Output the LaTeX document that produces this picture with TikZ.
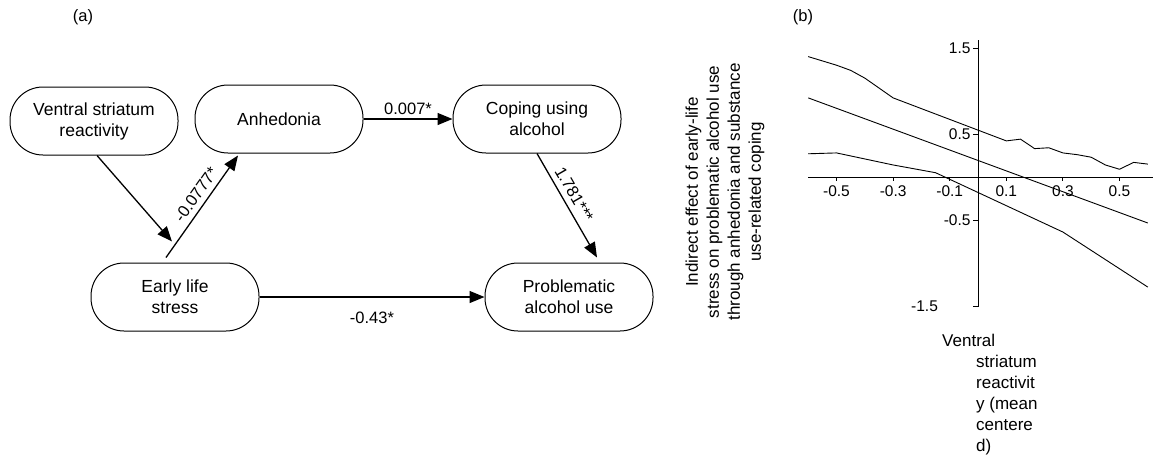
\documentclass[tikz,border=0pt]{standalone}
\usepackage{fontspec}
\setmainfont{Liberation Sans}
\usetikzlibrary{arrows.meta}
\begin{document}
\begin{tikzpicture}[x=1pt,y=-1pt,
  box/.style={draw, line width=1pt, rounded corners=33pt, minimum width=168pt, minimum height=68pt, align=center, font=\fontsize{17.5}{21}\selectfont},
  link/.style={line width=1.3pt, -{Triangle[length=15pt,width=12pt]}},
  coef/.style={font=\fontsize{16.5}{20}\selectfont},
  ticklab/.style={inner sep=2pt, font=\fontsize{15.5}{18}\selectfont},
  txt/.style={align=center, font=\fontsize{17}{21}\selectfont}]
  \useasboundingbox (0,0) rectangle (1155,458);

  % Panneau (a) : modèle de médiation
  \node[coef] (lbla) at (83,17) {(a)};
  \node[box] (vsr) at (94,121) {Ventral striatum\\reactivity};
  \node[box] (anh) at (279,119) {Anhedonia};
  \node[box] (cop) at (537,119) {Coping using\\alcohol};
  \node[box] (early) at (175,297) {Early life\\stress};
  \node[box] (prob) at (569,297) {Problematic\\alcohol use};

  % Chemins
  \draw[link] (anh.east) -- (cop.west) node[coef, midway, above] {0.007*};
  \draw[link] ([xshift=3pt]vsr.south) -- ([xshift=-3pt,yshift=21pt]early.north);
  \draw[link] ([xshift=-9pt,yshift=5pt]early.north) -- ([xshift=-41pt,yshift=-2pt]anh.south) node[coef, pos=0.55, above=2pt, sloped] {-0.0777*};
  \draw[link] (cop.south) -- ([xshift=28pt,yshift=5pt]prob.north) node[coef, pos=0.45, above=2pt, sloped] {1.781***};
  \draw[link] (early.east) -- (prob.west) node[coef, midway, below=11pt] {-0.43*};

  % Panneau (b) : effet indirect
  \node[coef] (lblb) at (803,17) {(b)};
  \node[txt, rotate=90] (ylab) at (725,192) {Indirect effect of early-life\\stress on problematic alcohol use\\through anhedonia and substance\\use-related coping};
  \node[txt, anchor=base west, inner sep=0pt] (xlab) at (942,346) {Ventral};
  \node[txt, align=left, anchor=north west, inner sep=0pt] (xlab2) at (976,355) {striatum\\reactivit\\y (mean\\centere\\d)};

  \begin{scope}[shift={(978,177)}, x=283pt, y=86pt]
    % Axes
    \draw[line width=1pt] (-0.6,0) -- (0.618,0);
    \draw[line width=1pt] (0,1.59) -- (0,-1.5) -- ++(-5pt,0);
    \foreach \v in {1.5,0.5,-0.5}
      \draw[line width=1pt] (0,\v) -- ++(-5pt,0) node[ticklab, left] {\v};
    \node[ticklab, anchor=east] (ymin) at (-0.134,-1.5) {-1.5};
    \foreach \v in {-0.5,-0.3,-0.1,0.1,0.3,0.5}
      \draw[line width=1pt] (\v,0) -- ++(0,-4pt) node[ticklab, below=2pt] {\v};

    % Courbes
    \draw[line width=0.9pt, line join=round] (-0.6,1.40) -- (-0.5,1.30) -- (-0.45,1.24) -- (-0.4,1.15) -- (-0.3,0.92) -- (0.1,0.42) -- (0.15,0.44) -- (0.2,0.33) -- (0.25,0.34) -- (0.3,0.28) -- (0.35,0.26) -- (0.4,0.23) -- (0.45,0.14) -- (0.5,0.09) -- (0.55,0.17) -- (0.6,0.15);
    \draw[line width=0.9pt] (-0.6,0.92) -- (0.6,-0.535);
    \draw[line width=0.9pt, line join=round] (-0.6,0.27) -- (-0.5,0.28) -- (-0.3,0.14) -- (-0.15,0.05) -- (0.3,-0.64) -- (0.6,-1.28);
  \end{scope}
\end{tikzpicture}
\end{document}
